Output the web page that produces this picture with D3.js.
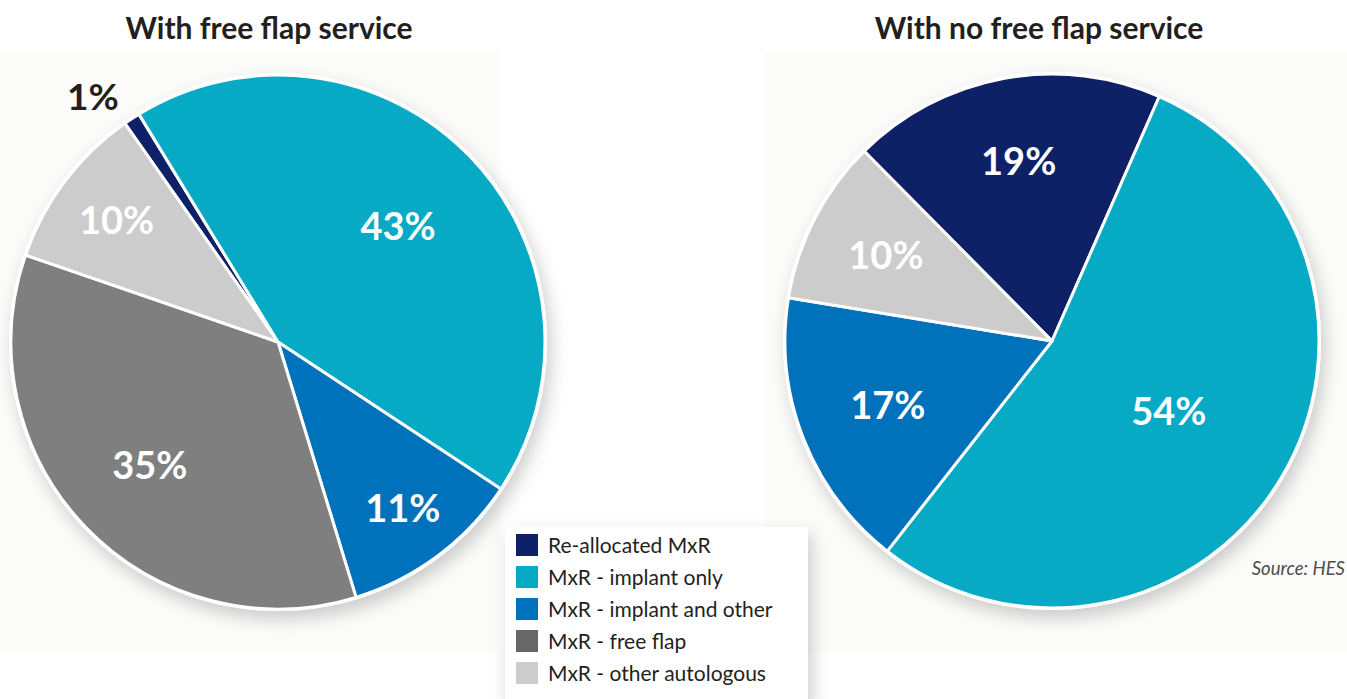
<!DOCTYPE html>
<html>
<head>
<meta charset="utf-8">
<script src="https://cdn.jsdelivr.net/npm/d3@7"></script>
<style>
  body { margin: 0; background: #ffffff; font-family: Lato, "Open Sans", sans-serif; }
  svg { display: block; }
</style>
</head>
<body>
<svg id="chart" width="1347" height="699"></svg>
<script>
// categories and colours
const categories = ["Re-allocated MxR", "MxR - implant only", "MxR - implant and other", "MxR - free flap", "MxR - other autologous"];
const colours = ["#0e2066", "#07aac5", "#0071bb", "#7f7f7f", "#cccccc"];
const legendColours = ["#0e2066", "#07aac5", "#0071bb", "#676767", "#cccccc"];

// percentages per service
const withFreeFlap = [1, 43, 11, 35, 10];
const withoutFreeFlap = [19, 54, 17, 0, 10];

const titles = ["With free flap service", "With no free flap service"];

const svg = d3.select("#chart");

const defs = svg.append("defs");
const shadow = defs.append("filter").attr("id", "shadow")
    .attr("x", "-20%").attr("y", "-20%").attr("width", "140%").attr("height", "140%");
shadow.append("feDropShadow")
    .attr("dx", 4).attr("dy", 8).attr("stdDeviation", 9)
    .attr("flood-color", "#000").attr("flood-opacity", 0.2);

// faint panels behind pies
svg.append("rect").attr("x", 0).attr("y", 52).attr("width", 500).attr("height", 600).attr("fill", "#fcfcfb");
svg.append("rect").attr("x", 765).attr("y", 52).attr("width", 582).attr("height", 600).attr("fill", "#fcfcfb");

const radius = 267;
const colour = d3.scaleOrdinal().domain(categories).range(colours);

// labelFrac: how far out (fraction of radius) each slice label sits
function drawPie(values, cx, cy, startDeg, title, titleX, labelFrac, outsideLabels) {
  const g = svg.append("g").attr("transform", "translate(" + cx + "," + cy + ")");

  const data = categories.map((c, i) => ({key: c, value: values[i], frac: labelFrac[i]}));
  const pie = d3.pie()
      .sort(null)
      .value(d => d.value)
      .startAngle(startDeg * Math.PI / 180)
      .endAngle(startDeg * Math.PI / 180 + 2 * Math.PI);
  const arcs = pie(data).filter(d => d.data.value > 0);

  const arc = d3.arc().innerRadius(0).outerRadius(radius);
  const labelPos = d => {
    const r = radius * d.data.frac;
    return d3.arc().innerRadius(r).outerRadius(r).centroid(d);
  };

  // white disc with shadow
  g.append("circle").attr("r", radius + 2).attr("fill", "#fff").attr("filter", "url(#shadow)");

  g.selectAll("path.slice")
      .data(arcs)
      .join("path")
      .attr("class", "slice")
      .attr("d", arc)
      .attr("fill", d => colour(d.data.key))
      .attr("stroke", "#fff")
      .attr("stroke-width", 3)
      .attr("stroke-linejoin", "round");

  g.selectAll("text.pct")
      .data(arcs.filter(d => !outsideLabels.includes(d.data.key)))
      .join("text")
      .attr("class", "pct")
      .attr("transform", d => "translate(" + labelPos(d) + ")")
      .attr("text-anchor", "middle")
      .attr("dy", "0.36em")
      .attr("fill", "#fff")
      .attr("font-weight", 700)
      .attr("font-size", 38)
      .text(d => d.data.value + "%");

  svg.append("text")
      .attr("x", titleX)
      .attr("y", 39)
      .attr("text-anchor", "middle")
      .attr("fill", "#231f20")
      .attr("font-weight", 700)
      .attr("font-size", 30)
      .text(title);

  return g;
}

const left = drawPie(withFreeFlap, 278, 342, -35, titles[0], 269,
    [0.9, 0.625, 0.78, 0.667, 0.757], ["Re-allocated MxR"]);
const right = drawPie(withoutFreeFlap, 1052, 341, -44.7, titles[1], 1039,
    [0.685, 0.51, 0.66, 0.7, 0.7], []);

// small slice label placed outside
left.append("text")
    .attr("x", -185)
    .attr("y", -245)
    .attr("text-anchor", "middle")
    .attr("dy", "0.36em")
    .attr("fill", "#231f20")
    .attr("font-weight", 700)
    .attr("font-size", 37)
    .text(withFreeFlap[0] + "%");

// legend
const legend = svg.append("g").attr("transform", "translate(505,527)");
legend.append("rect")
    .attr("width", 303).attr("height", 180)
    .attr("fill", "#fff")
    .attr("filter", "url(#shadow)");
const rows = legend.selectAll("g.row")
    .data(categories)
    .join("g")
    .attr("class", "row")
    .attr("transform", (d, i) => "translate(11," + (7 + i * 32) + ")");
rows.append("rect")
    .attr("width", 22).attr("height", 22)
    .attr("fill", (d, i) => legendColours[i]);
rows.append("text")
    .attr("x", 32).attr("y", 11)
    .attr("dy", "0.36em")
    .attr("font-size", 21)
    .attr("fill", "#231f20")
    .text(d => d);

svg.append("text")
    .attr("x", 1345).attr("y", 575)
    .attr("text-anchor", "end")
    .attr("font-style", "italic")
    .attr("font-size", 18.5)
    .attr("fill", "#4d4d4d")
    .text("Source: HES");
</script>
</body>
</html>
